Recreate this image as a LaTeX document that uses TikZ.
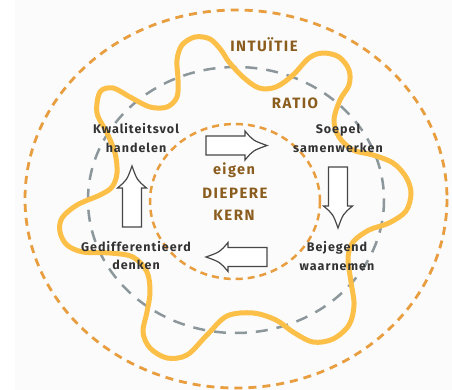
\documentclass[tikz,border=0pt]{standalone}
\usepackage{fontspec}
\setmainfont{Fira Sans}
\newfontfamily\labelfont{Fira Sans}[LetterSpace=8]
\newfontfamily\titlefont{Fira Sans}[LetterSpace=10]
\definecolor{ringorange}{RGB}{232,157,63}
\definecolor{ringgray}{RGB}{140,151,156}
\definecolor{waveyellow}{RGB}{252,192,72}
\definecolor{kernbrown}{RGB}{138,93,30}
\definecolor{labelgray}{RGB}{51,51,51}
\definecolor{bgcol}{RGB}{251,251,252}
\tikzset{
  outerring/.style={draw=ringorange, line width=2.8pt, dash pattern=on 8pt off 6pt},
  midring/.style={draw=ringgray, line width=2.5pt, dash pattern=on 12pt off 9pt},
  innerring/.style={draw=ringorange, line width=2.5pt, dash pattern=on 7pt off 5pt},
  wave/.style={draw=waveyellow, line width=5pt, line join=round},
  arrowline/.style={draw=labelgray!90, line width=1.2pt, fill=white, line join=miter},
  lbl/.style={anchor=base, inner sep=0pt, text=labelgray, font=\labelfont\bfseries\fontsize{12.5}{15}\selectfont},
  kern/.style={anchor=base, inner sep=0pt, text=kernbrown, font=\titlefont\bfseries\fontsize{15}{18}\selectfont},
  blockarrow/.pic={
    \draw[arrowline] (0,-9.5) -- (39,-9.5) -- (39,-14.5)
      .. controls (47,-5) .. (61,0)
      .. controls (47,5) .. (39,14.5) -- (39,9.5) -- (0,9.5) -- cycle;
  }
}
\begin{document}
\begin{tikzpicture}[x=1pt,y=-1pt]
\useasboundingbox (0,0) rectangle (452,390);
\fill[bgcol] (15,0) rectangle (452,390);
% rings
\draw[outerring] (236,199) ellipse [x radius=211, y radius=189];
\draw[midring] (236,200) ellipse [x radius=148, y radius=133];
% wave
\draw[wave] plot[smooth cycle, tension=0.55] coordinates {
 (182,45) (195,37) (210,39) (221,50) (229,62) (243,77) (259,88) (276,87)
 (293,75) (309,58) (323,53) (339,57) (349,70) (349,85) (340,100) (334,120)
 (339,137) (353,150) (373,155) (393,163) (406,177) (411,193) (406,211) (389,223)
 (369,230) (353,242) (348,258) (351,282) (354,305) (349,325) (333,339) (313,342)
 (293,332) (276,320) (253,313) (227,316) (207,335) (187,355) (167,358) (150,348)
 (143,332) (147,312) (150,292) (147,272) (133,257) (110,253) (83,252) (67,245)
 (60,232) (62,218) (77,205) (100,195) (112,187) (117,173) (115,153) (107,133)
 (97,113) (100,92) (113,88) (130,97) (150,107) (167,107) (177,97) (178,80) (177,60)};
\draw[innerring] (235,201.5) ellipse [x radius=85, y radius=77.5];
% block arrows
\pic at (206,145.5) {blockarrow};
\pic[rotate=-90] at (338,167) {blockarrow};
\pic[rotate=180] at (267,257) {blockarrow};
\pic[rotate=90] at (132,227) {blockarrow};
% labels
\node[kern] (intuitie) at (264,51.5) {INTUÏTIE};
\node[kern] (ratio) at (295,109) {RATIO};
\node[kern, font=\titlefont\bfseries\fontsize{14.5}{18}\selectfont] (eigen) at (234,175) {eigen};
\node[kern] (diepere) at (235,198) {DIEPERE};
\node[kern] (kern) at (234,220) {KERN};
\node[lbl] (kwa) at (136,134) {Kwaliteitsvol};
\node[lbl] (kwb) at (136,152.6) {handelen};
\node[lbl] (soa) at (338,134) {Soepel};
\node[lbl] (sob) at (338,152.6) {samenwerken};
\node[lbl] (gea) at (136,251) {Gedifferentieerd};
\node[lbl] (geb) at (136,269) {denken};
\node[lbl] (bea) at (337,251.5) {Bejegend};
\node[lbl] (beb) at (337,270) {waarnemen};
\end{tikzpicture}
\end{document}
